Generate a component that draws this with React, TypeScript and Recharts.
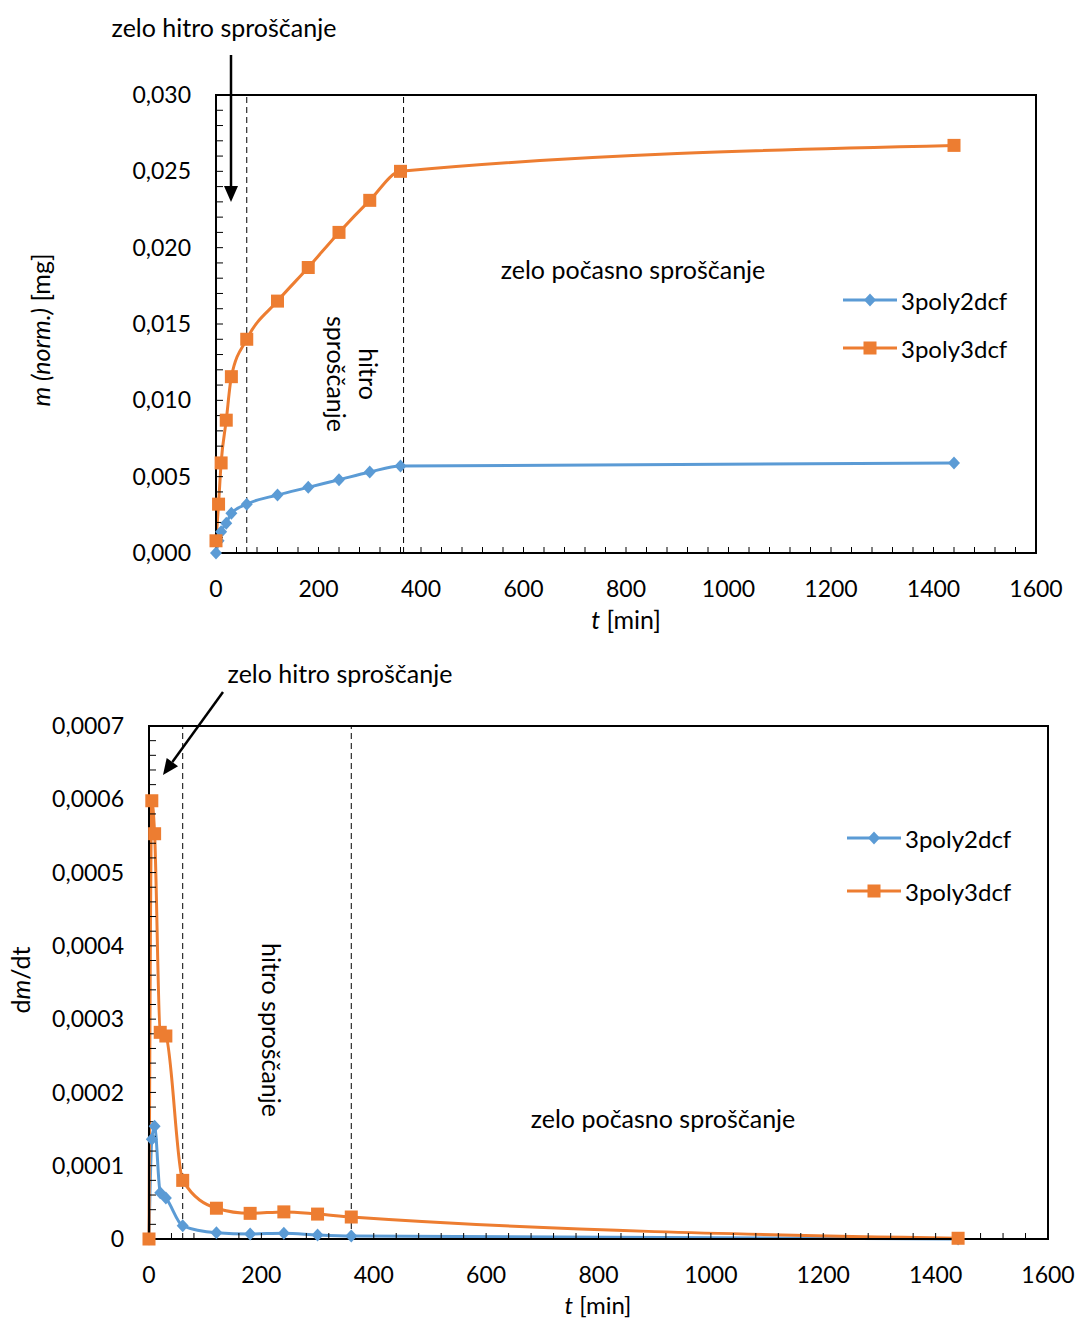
import React from 'react';
import { LineChart, Line, XAxis, YAxis, ReferenceLine, ReferenceArea, Legend } from 'recharts';

// ---- data ----
const timeMin = [0, 5, 10, 20, 30, 60, 120, 180, 240, 300, 360, 1440];
const mass3poly2dcf = [0, 0.0008, 0.0014, 0.00195, 0.0026, 0.0032, 0.0038, 0.0043, 0.0048, 0.0053, 0.0057, 0.0059];
const mass3poly3dcf = [0.0008, 0.0032, 0.0059, 0.0087, 0.01155, 0.014, 0.0165, 0.0187, 0.021, 0.0231, 0.025, 0.0267];
const rate3poly2dcf = [0, 0.000136, 0.000154, 0.000063, 0.000056, 0.000018, 0.0000086, 0.0000068, 0.000008, 0.0000055, 0.000004, 0];
const rate3poly3dcf = [0, 0.000598, 0.000553, 0.000282, 0.000277, 0.00008, 0.000042, 0.000035, 0.000037, 0.000034, 0.00003, 0.000001];

const seriesNames = ['3poly2dcf', '3poly3dcf'];

// ---- ticks ----
const xMajorTicks = [0, 200, 400, 600, 800, 1000, 1200, 1400, 1600];
const topYMajorTicks = [0, 0.005, 0.01, 0.015, 0.02, 0.025, 0.03];
const botYMajorTicks = [0, 0.0001, 0.0002, 0.0003, 0.0004, 0.0005, 0.0006, 0.0007];

// phase boundaries (min)
const topPhaseLines = [60, 366];
const botPhaseLines = [60, 360];

const BLUE = '#5B9BD5';
const ORANGE = '#ED7D31';
const FONT = 'Lato, "Open Sans", sans-serif';
const TEXT_SIZE = 25;
const TICK_SIZE = 23;

function subdivide(major: number[], parts: number): number[] {
  const out: number[] = [];
  for (let i = 0; i < major.length - 1; i++) {
    const step = (major[i + 1] - major[i]) / parts;
    for (let k = 0; k < parts; k++) out.push(major[i] + step * k);
  }
  out.push(major[major.length - 1]);
  return out;
}

function majorFormatter(major: number[], fmt: (v: number) => string) {
  const step = major[1] - major[0];
  return (v: number) => {
    const hit = major.find((m) => Math.abs(m - v) < step * 1e-6);
    return hit === undefined ? '' : fmt(hit);
  };
}

const topData = timeMin.map((t, i) => ({ t, a: mass3poly2dcf[i], b: mass3poly3dcf[i] }));
const botData = timeMin.map((t, i) => ({ t, a: rate3poly2dcf[i], b: rate3poly3dcf[i] }));

const xTicks = subdivide(xMajorTicks, 5);
const topYTicks = subdivide(topYMajorTicks, 5);
const botYTicks = subdivide(botYMajorTicks, 5);

const xFmt = majorFormatter(xMajorTicks, (v) => String(v));
const topYFmt = majorFormatter(topYMajorTicks, (v) => v.toFixed(3).replace('.', ','));
const botYFmt = majorFormatter(botYMajorTicks, (v) => (Math.abs(v) < 1e-12 ? '0' : v.toFixed(4).replace('.', ',')));

const DiamondDot = (props: any) => {
  const { cx, cy, index } = props;
  if (cx == null || cy == null) return <g key={`dd${index}`} />;
  return (
    <path
      key={`dd${index}`}
      d={`M${cx},${cy - 6.5}L${cx + 6},${cy}L${cx},${cy + 6.5}L${cx - 6},${cy}Z`}
      fill={BLUE}
    />
  );
};

const SquareDot = (props: any) => {
  const { cx, cy, index } = props;
  if (cx == null || cy == null) return <g key={`sq${index}`} />;
  return <rect key={`sq${index}`} x={cx - 6.5} y={cy - 6.5} width={13} height={13} fill={ORANGE} />;
};

const makeLegend = (rowGap: number) => () => (
  <svg width={220} height={rowGap + 30} style={{ overflow: 'visible', display: 'block' }}>
    {seriesNames.map((name, i) => {
      const y = 14 + rowGap * i;
      const color = i === 0 ? BLUE : ORANGE;
      return (
        <g key={name}>
          <line x1={0} x2={54} y1={y} y2={y} stroke={color} strokeWidth={3} />
          {i === 0 ? (
            <path d={`M27,${y - 6.5}L33,${y}L27,${y + 6.5}L21,${y}Z`} fill={BLUE} />
          ) : (
            <rect x={20.5} y={y - 6.5} width={13} height={13} fill={ORANGE} />
          )}
          <text x={58} y={y} dominantBaseline="central" fontSize={24} fontFamily={FONT} fill="#000">
            {name}
          </text>
        </g>
      );
    })}
  </svg>
);

const axisTick = { fill: '#000', fontSize: TICK_SIZE, fontFamily: FONT };

function Arrow({ x1, y1, x2, y2 }: { x1: number; y1: number; x2: number; y2: number }) {
  const dx = x2 - x1;
  const dy = y2 - y1;
  const len = Math.hypot(dx, dy);
  const ux = dx / len;
  const uy = dy / len;
  const hl = 16;
  const hw = 7;
  const bx = x2 - ux * hl;
  const by = y2 - uy * hl;
  const px = -uy;
  const py = ux;
  return (
    <g>
      <line x1={x1} y1={y1} x2={bx} y2={by} stroke="#000" strokeWidth={2.5} />
      <polygon points={`${x2},${y2} ${bx + px * hw},${by + py * hw} ${bx - px * hw},${by - py * hw}`} fill="#000" />
    </g>
  );
}

export default function App() {
  return (
    <div style={{ position: 'absolute', left: 0, top: 0, width: 1076, height: 1320, background: '#fff', fontFamily: FONT }}>
      <div style={{ position: 'absolute', left: 0, top: 0 }}>
        <LineChart width={1076} height={650} data={topData} margin={{ top: 95, right: 40, left: 116, bottom: 37 }}>
          <XAxis
            type="number"
            dataKey="t"
            domain={[0, 1600]}
            ticks={xTicks}
            interval={0}
            tickFormatter={xFmt}
            tickSize={-6}
            tickMargin={34}
            height={60}
            tick={axisTick}
            tickLine={{ stroke: '#000', strokeWidth: 1 }}
            axisLine={{ stroke: '#000', strokeWidth: 2 }}
          />
          <YAxis
            type="number"
            domain={[0, 0.03]}
            ticks={topYTicks}
            interval={0}
            tickFormatter={topYFmt}
            tickSize={-7}
            tickMargin={32}
            width={100}
            tick={axisTick}
            tickLine={{ stroke: '#000', strokeWidth: 1 }}
            axisLine={{ stroke: '#000', strokeWidth: 2 }}
          />
          <ReferenceArea x1={0} x2={1600} y1={0} y2={0.03} fill="none" stroke="#000" strokeWidth={2} ifOverflow="visible" />
          {topPhaseLines.map((x) => (
            <ReferenceLine key={x} x={x} stroke="#000" strokeWidth={1} strokeDasharray="6 4" />
          ))}
          <Line
            type="monotone"
            dataKey="a"
            name={seriesNames[0]}
            stroke={BLUE}
            strokeWidth={3}
            dot={DiamondDot}
            activeDot={false}
            isAnimationActive={false}
          />
          <Line
            type="monotone"
            dataKey="b"
            name={seriesNames[1]}
            stroke={ORANGE}
            strokeWidth={3}
            dot={SquareDot}
            activeDot={false}
            isAnimationActive={false}
          />
          <Legend
            layout="vertical"
            align="center"
            verticalAlign="middle"
            content={makeLegend(48)}
            wrapperStyle={{ left: 843, top: 286, width: 220, height: 80 }}
          />
        </LineChart>
      </div>

      <div style={{ position: 'absolute', left: 0, top: 650 }}>
        <LineChart width={1076} height={670} data={botData} margin={{ top: 76, right: 28, left: 49, bottom: 21 }}>
          <XAxis
            type="number"
            dataKey="t"
            domain={[0, 1600]}
            ticks={xTicks}
            interval={0}
            tickFormatter={xFmt}
            tickSize={-6}
            tickMargin={34}
            height={60}
            tick={axisTick}
            tickLine={{ stroke: '#000', strokeWidth: 1 }}
            axisLine={{ stroke: '#000', strokeWidth: 2 }}
          />
          <YAxis
            type="number"
            domain={[0, 0.0007]}
            ticks={botYTicks}
            interval={0}
            tickFormatter={botYFmt}
            tickSize={-7}
            tickMargin={32}
            width={100}
            tick={axisTick}
            tickLine={{ stroke: '#000', strokeWidth: 1 }}
            axisLine={{ stroke: '#000', strokeWidth: 2 }}
          />
          <ReferenceArea x1={0} x2={1600} y1={0} y2={0.0007} fill="none" stroke="#000" strokeWidth={2} ifOverflow="visible" />
          {botPhaseLines.map((x) => (
            <ReferenceLine key={x} x={x} stroke="#000" strokeWidth={1} strokeDasharray="6 4" />
          ))}
          <Line
            type="monotone"
            dataKey="a"
            name={seriesNames[0]}
            stroke={BLUE}
            strokeWidth={3}
            dot={DiamondDot}
            activeDot={false}
            isAnimationActive={false}
          />
          <Line
            type="monotone"
            dataKey="b"
            name={seriesNames[1]}
            stroke={ORANGE}
            strokeWidth={3}
            dot={SquareDot}
            activeDot={false}
            isAnimationActive={false}
          />
          <Legend
            layout="vertical"
            align="center"
            verticalAlign="middle"
            content={makeLegend(53)}
            wrapperStyle={{ left: 847, top: 838 - 650 - 14, width: 220, height: 90 }}
          />
        </LineChart>
      </div>

      <svg
        width={1076}
        height={1320}
        style={{ position: 'absolute', left: 0, top: 0, pointerEvents: 'none' }}
        fontFamily={FONT}
        fontSize={TEXT_SIZE}
      >
        {/* top chart annotations */}
        <text x={224} y={37} textAnchor="middle" fill="#000">zelo hitro sproščanje</text>
        <Arrow x1={231} y1={55} x2={231} y2={202} />
        <text x={369} y={374} textAnchor="middle" dominantBaseline="central" transform="rotate(90 369 374)" fill="#000">hitro</text>
        <text x={337} y={374} textAnchor="middle" dominantBaseline="central" transform="rotate(90 337 374)" fill="#000">sproščanje</text>
        <text x={633} y={269} textAnchor="middle" dominantBaseline="central" fill="#000">zelo počasno sproščanje</text>
        <text x={40} y={330} textAnchor="middle" dominantBaseline="central" transform="rotate(-90 40 330)" fill="#000">
          <tspan fontStyle="italic">m (norm.)</tspan> [mg]
        </text>
        <text x={626} y={619} textAnchor="middle" dominantBaseline="central" fill="#000">
          <tspan fontStyle="italic">t</tspan> [min]
        </text>

        {/* bottom chart annotations */}
        <text x={340} y={683} textAnchor="middle" fill="#000">zelo hitro sproščanje</text>
        <Arrow x1={223} y1={692} x2={163} y2={775} />
        <text x={272} y={1030} textAnchor="middle" dominantBaseline="central" transform="rotate(90 272 1030)" fill="#000">hitro sproščanje</text>
        <text x={663} y={1118} textAnchor="middle" dominantBaseline="central" fill="#000">zelo počasno sproščanje</text>
        <text x={20} y={980} textAnchor="middle" dominantBaseline="central" transform="rotate(-90 20 980)" fill="#000">
          d<tspan fontStyle="italic">m</tspan>/dt
        </text>
        <text x={598} y={1304} textAnchor="middle" dominantBaseline="central" fontSize={24} fill="#000">
          <tspan fontStyle="italic">t</tspan> [min]
        </text>
      </svg>
    </div>
  );
}
